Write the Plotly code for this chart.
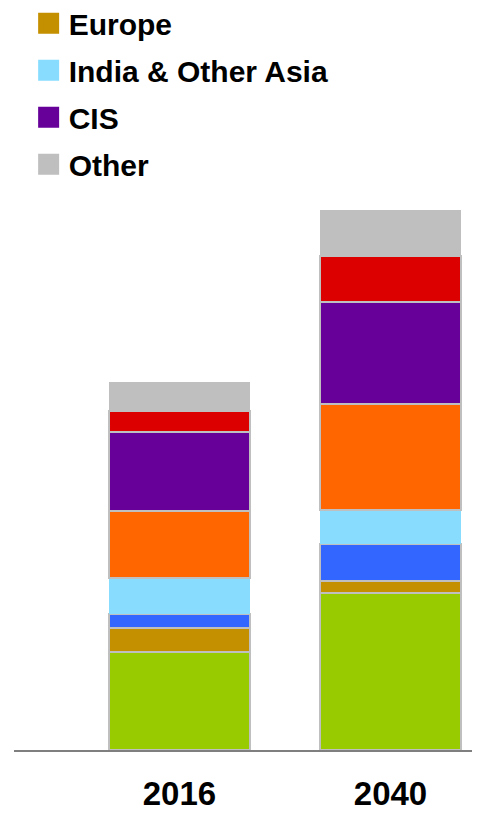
import plotly.graph_objects as go

years = ["2016", "2040"]

# segment values (bottom to top)
green_vals = [980, 1570]
europe_vals = [240, 120]
blue_vals = [140, 370]
india_vals = [360, 340]
orange_vals = [670, 1060]
cis_vals = [790, 1020]
red_vals = [210, 460]
other_vals = [290, 460]

segments = [
    ("Green", green_vals, "#99CC00", True),
    ("Europe", europe_vals, "#C49000", True),
    ("Blue", blue_vals, "#3366FF", True),
    ("India & Other Asia", india_vals, "#88DDFF", False),
    ("Orange", orange_vals, "#FF6600", True),
    ("CIS", cis_vals, "#660099", True),
    ("Red", red_vals, "#DD0000", True),
    ("Other", other_vals, "#BFBFBF", False),
]

legend_order = ["Europe", "India & Other Asia", "CIS", "Other"]

FONT = "Liberation Sans, Arial, sans-serif"

fig = go.Figure()
for name, vals, color, outlined in segments:
    fig.add_trace(go.Bar(
        x=years, y=vals, name=name, showlegend=False,
        marker=dict(color=color,
                    line=dict(color="#BFBFBF", width=1.5 if outlined else 0)),
        width=0.668, hoverinfo="x+y+name",
    ))

colors = {s[0]: s[2] for s in segments}
for name in legend_order:
    fig.add_trace(go.Scatter(
        x=[None], y=[None], mode="markers", name=name, showlegend=True,
        legendgroup=name,
        marker=dict(symbol="square", size=16, color=colors[name],
                    line=dict(color=colors[name], width=5)),
    ))

fig.update_layout(
    width=480, height=814,
    barmode="stack",
    paper_bgcolor="white", plot_bgcolor="white",
    margin=dict(l=6, r=0, t=192, b=72, autoexpand=False),
    font=dict(family=FONT, color="black"),
    legend=dict(
        xref="container", yref="paper",
        x=0.043, y=1.3685, xanchor="left", yanchor="top",
        font=dict(family=FONT, size=30, color="black", weight="bold"),
        traceorder="grouped", itemwidth=30, tracegroupgap=5,
        bgcolor="rgba(0,0,0,0)",
    ),
    xaxis=dict(
        type="category", range=[-0.784, 1.462],
        showline=True, linecolor="#7F7F7F", linewidth=2,
        showgrid=False, ticks="", zeroline=False, tickangle=0,
        tickfont=dict(family=FONT, size=33, color="black", weight="bold"),
        ticklabelstandoff=13,
    ),
    yaxis=dict(
        range=[0, 5500], visible=False, showgrid=False, zeroline=False,
    ),
)

fig.write_html("out.html")
